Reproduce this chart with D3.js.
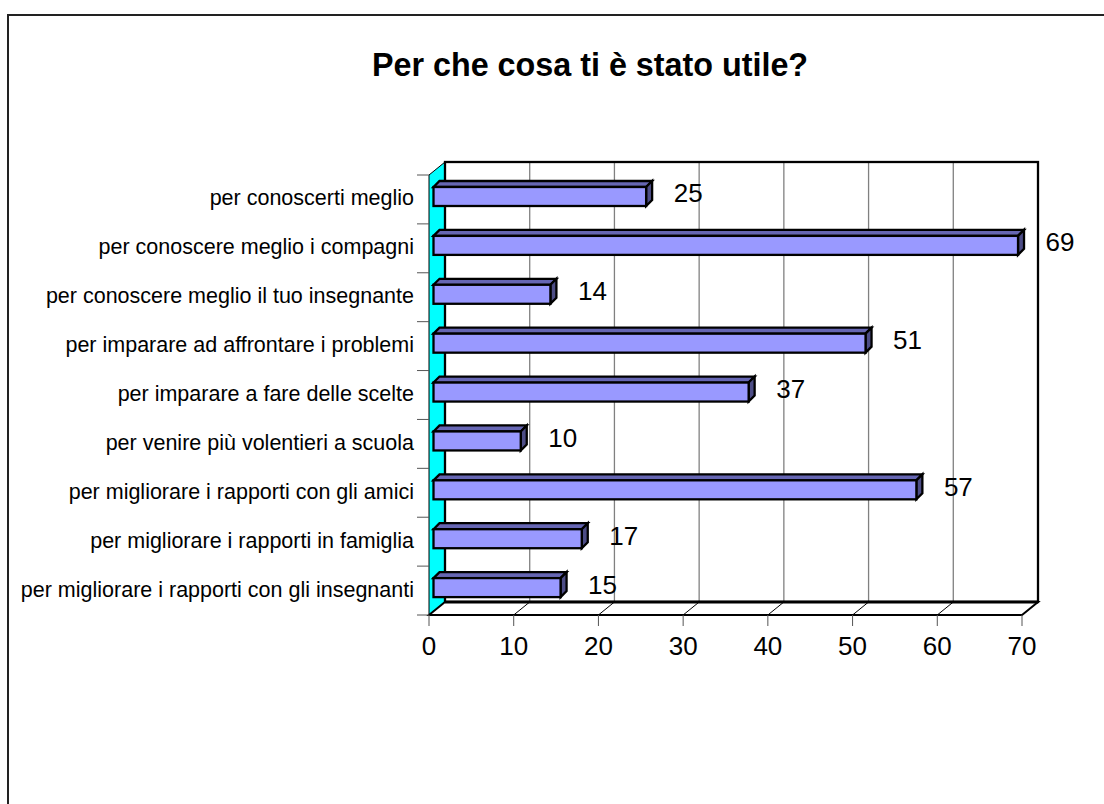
<!DOCTYPE html>
<html>
<head>
<meta charset="utf-8">
<script src="https://cdn.jsdelivr.net/npm/d3@7"></script>
<style>
  html, body { margin: 0; padding: 0; background: #fff; }
  svg { display: block; }
  text { font-family: "Liberation Sans", Arial, sans-serif; fill: #000; }
</style>
</head>
<body>
<div id="chart"></div>
<script>
var chartTitle = "Per che cosa ti è stato utile?";
var categories = [
  "per conoscerti meglio",
  "per conoscere meglio i compagni",
  "per conoscere meglio il tuo insegnante",
  "per imparare ad affrontare i problemi",
  "per imparare a fare delle scelte",
  "per venire più volentieri a scuola",
  "per migliorare i rapporti con gli amici",
  "per migliorare i rapporti in famiglia",
  "per migliorare i rapporti con gli insegnanti"
];
// bar lengths, the printed labels are rounded differently
var values = [25.1, 69, 13.8, 51, 37.2, 10.3, 57, 17.5, 15];
var valueLabels = ["25", "69", "14", "51", "37", "10", "57", "17", "15"];
var xTicks = [0, 10, 20, 30, 40, 50, 60, 70];

var width = 1104, height = 804;
var depthX = 16, depthY = 13;   // offset of the back wall
var barDepthX = 6, barDepthY = 6;

var x = d3.scaleLinear().domain([0, 70]).range([429, 1022]);
var y = d3.scaleBand().domain(categories).range([175, 615]);

var svg = d3.select("#chart").append("svg")
  .attr("width", width)
  .attr("height", height);

// outer frame, right and bottom edges are cut off by the page
svg.append("rect")
  .attr("x", 8).attr("y", 15)
  .attr("width", 1120).attr("height", 810)
  .attr("fill", "#fff").attr("stroke", "#222").attr("stroke-width", 2);

svg.append("text")
  .attr("x", 590).attr("y", 76)
  .attr("text-anchor", "middle")
  .attr("font-size", 32.3).attr("font-weight", "bold")
  .text(chartTitle);

var x0 = x(0), x1 = x(70), yTop = y.range()[0], yBot = y.range()[1];

// left wall
svg.append("polygon")
  .attr("points", [[x0, yTop], [x0 + depthX, yTop - depthY], [x0 + depthX, yBot - depthY], [x0, yBot]].join(" "))
  .attr("fill", "#00ffff").attr("stroke", "#000").attr("stroke-width", 1);

// gridlines on the back wall
svg.append("g").selectAll("line")
  .data(xTicks.slice(1, -1))
  .enter().append("line")
  .attr("x1", function(d) { return x(d) + depthX; })
  .attr("x2", function(d) { return x(d) + depthX; })
  .attr("y1", yTop - depthY).attr("y2", yBot - depthY)
  .attr("stroke", "#808080").attr("stroke-width", 1.3);

// back wall border
svg.append("rect")
  .attr("x", x0 + depthX).attr("y", yTop - depthY)
  .attr("width", x1 - x0).attr("height", yBot - yTop)
  .attr("fill", "none").attr("stroke", "#000").attr("stroke-width", 2.3);

// floor
svg.append("polygon")
  .attr("points", [[x0, yBot], [x0 + depthX, yBot - depthY], [x1 + depthX, yBot - depthY], [x1, yBot]].join(" "))
  .attr("fill", "#fff").attr("stroke", "#000").attr("stroke-width", 2);

svg.append("line")
  .attr("x1", x0 + depthX).attr("x2", x1 + depthX)
  .attr("y1", yBot - depthY).attr("y2", yBot - depthY)
  .attr("stroke", "#000").attr("stroke-width", 3);

svg.append("g").selectAll("line")
  .data(xTicks.slice(1, -1))
  .enter().append("line")
  .attr("x1", function(d) { return x(d); })
  .attr("x2", function(d) { return x(d) + depthX; })
  .attr("y1", yBot).attr("y2", yBot - depthY)
  .attr("stroke", "#000").attr("stroke-width", 1);

// x axis ticks and labels
svg.append("g").selectAll("line")
  .data(xTicks)
  .enter().append("line")
  .attr("x1", function(d) { return x(d); })
  .attr("x2", function(d) { return x(d); })
  .attr("y1", yBot).attr("y2", yBot + 11)
  .attr("stroke", "#555").attr("stroke-width", 1);

svg.append("g").selectAll("text")
  .data(xTicks)
  .enter().append("text")
  .attr("x", function(d) { return x(d); })
  .attr("y", yBot + 40)
  .attr("text-anchor", "middle")
  .attr("font-size", 26)
  .text(function(d) { return d; });

// y axis ticks and labels
svg.append("g").selectAll("line")
  .data(y.domain().map(function(d) { return y(d); }).concat([yBot]))
  .enter().append("line")
  .attr("x1", x0 - 12).attr("x2", x0)
  .attr("y1", function(d) { return d; }).attr("y2", function(d) { return d; })
  .attr("stroke", "#555").attr("stroke-width", 1);

svg.append("g").selectAll("text")
  .data(categories)
  .enter().append("text")
  .attr("x", 414)
  .attr("y", function(d) { return y(d) + y.bandwidth() / 2 + 6; })
  .attr("text-anchor", "end")
  .attr("font-size", 21.5)
  .text(function(d) { return d; });

// bars
var bars = svg.append("g").selectAll("g")
  .data(categories)
  .enter().append("g");

var barTop = function(d) { return y(d) + 12; };
var barH = 19;
var barLeft = x0 + 4.5;
var barRight = function(d, i) { return x(values[i]) + 4.5; };

bars.append("polygon")   // top face
  .attr("points", function(d, i) {
    var t = barTop(d), r = barRight(d, i);
    return [[barLeft, t], [barLeft + barDepthX, t - barDepthY], [r + barDepthX, t - barDepthY], [r, t]].join(" ");
  })
  .attr("fill", "#6666b3").attr("stroke", "#000").attr("stroke-width", 2.3);

bars.append("polygon")   // side face
  .attr("points", function(d, i) {
    var t = barTop(d), r = barRight(d, i);
    return [[r, t], [r + barDepthX, t - barDepthY], [r + barDepthX, t + barH - barDepthY], [r, t + barH]].join(" ");
  })
  .attr("fill", "#4d4d86").attr("stroke", "#000").attr("stroke-width", 2.3);

bars.append("rect")      // front face
  .attr("x", barLeft)
  .attr("y", barTop)
  .attr("width", function(d, i) { return barRight(d, i) - barLeft; })
  .attr("height", barH)
  .attr("fill", "#9999ff").attr("stroke", "#000").attr("stroke-width", 2.3);

// value labels
bars.append("text")
  .attr("x", function(d, i) { return barRight(d, i) + 42; })
  .attr("y", function(d) { return y(d) + y.bandwidth() / 2 + 3; })
  .attr("text-anchor", "middle")
  .attr("font-size", 26)
  .text(function(d, i) { return valueLabels[i]; });
</script>
</body>
</html>
